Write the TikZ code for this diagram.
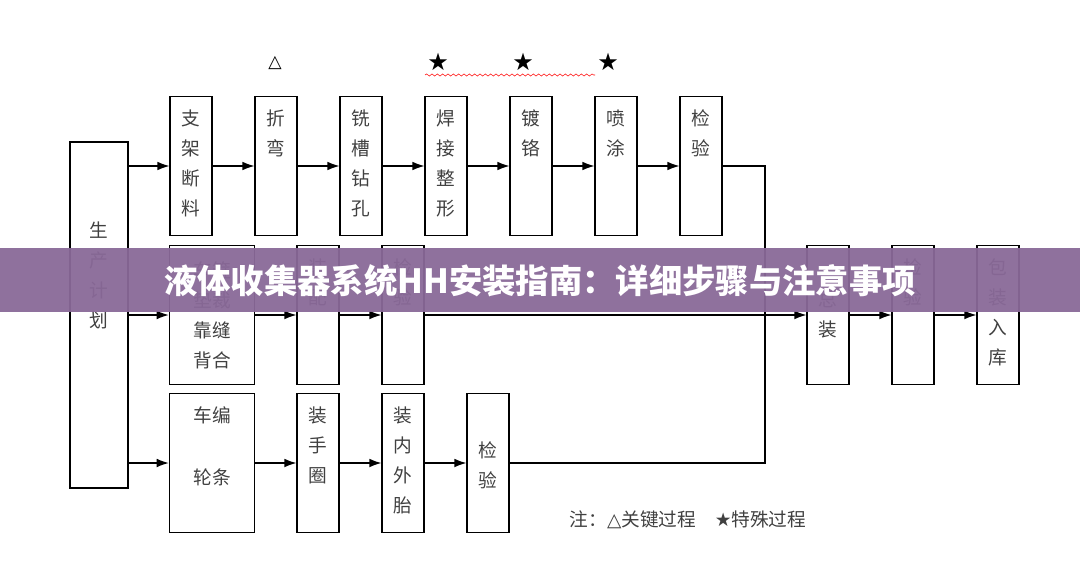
\documentclass[tikz,border=0pt]{standalone}
\usepackage{fontspec}
\setmainfont{Noto Sans CJK SC}
\newfontfamily\symfont{DejaVu Sans}
\usetikzlibrary{positioning,decorations.pathmorphing,arrows.meta}
\begin{document}
\begin{tikzpicture}
[x=0.75pt,y=-0.75pt,>={Latex[length=9pt,width=6.5pt]},
box/.style = {draw, line width=0.9pt, minimum width=31.5pt, minimum height=104pt, inner sep=0pt},
wbox/.style = {box, minimum width=64pt},
txt/.style = {anchor=north, yshift=-7pt, align=center, font=\fontsize{14}{22.5}\selectfont, text=black!75},
flow/.style = {->, line width=0.9pt},]
\useasboundingbox (0,0) rectangle (1080,560);
\node (P) at (99,315)[box, minimum width=43.5pt, minimum height=259.5pt, label={[txt, yshift=-50pt]north:生\\产\\计\\划}] {};
% first row
\node (a1) at (191,166)[box, label={[txt]north:支\\架\\断\\料}] {};
\node (a2) at (276,166)[box, label={[txt]north:折\\弯}] {};
\node (a3) at (361,166)[box, label={[txt]north:铣\\槽\\钻\\孔}] {};
\node (a4) at (446,166)[box, label={[txt]north:焊\\接\\整\\形}] {};
\node (a5) at (531,166)[box, label={[txt]north:镀\\铬}] {};
\node (a6) at (616,166)[box, label={[txt]north:喷\\涂}] {};
\node (a7) at (701,166)[box, label={[txt]north:检\\验}] {};
% second row
\node (b1) at (212,315)[wbox, label={[txt, yshift=-2pt]north:车箍\\垫裁\\靠缝\\背合}] {};
\node (b2) at (318,315)[box, label={[txt]north:装\\配}] {};
\node (b3) at (403,315)[box, label={[txt]north:检\\验}] {};
% third row
\node (c1) at (212,463)[wbox, label={[txt, font=\fontsize{14}{46}\selectfont]north:车编\\轮条}] {};
\node (c2) at (318,463)[box, label={[txt]north:装\\手\\圈}] {};
\node (c3) at (403,463)[box, label={[txt]north:装\\内\\外\\胎}] {};
\node (c4) at (488,463)[box, label={[txt, yshift=-26pt]north:检\\验}] {};
% final
\node (d1) at (828,315)[box, label={[txt, yshift=-24pt]north:总\\装}] {};
\node (d2) at (913,315)[box, label={[txt]north:检\\验}] {};
\node (d3) at (998,315)[box, label={[txt]north:包\\装\\入\\库}] {};
\coordinate (J1) at (765,166);
\coordinate (J3) at (765,463);
\draw [flow] (P.east |- a1) -- (a1);
\draw [flow] (P.east |- b1) -- (b1);
\draw [flow] (P.east |- c1) -- (c1);
\draw [flow] (a1) -- (a2);
\draw [flow] (a2) -- (a3);
\draw [flow] (a3) -- (a4);
\draw [flow] (a4) -- (a5);
\draw [flow] (a5) -- (a6);
\draw [flow] (a6) -- (a7);
\draw [flow] (b1) -- (b2);
\draw [flow] (b2) -- (b3);
\draw [flow] (c1) -- (c2);
\draw [flow] (c2) -- (c3);
\draw [flow] (c3) -- (c4);
\draw [line width=0.9pt] (a7) -- (J1) -- (J3) -- (c4);
\draw [flow] (b3) -- (d1);
\draw [flow] (d1) -- (d2);
\draw [flow] (d2) -- (d3);
% marks
\node (T) at (275,63) {\symfont\fontsize{13}{13}\selectfont △};
\node (S1) at (438,62) {\symfont\fontsize{18}{18}\selectfont ★};
\node (S2) at (523,62) {\symfont\fontsize{18}{18}\selectfont ★};
\node (S3) at (608,62) {\symfont\fontsize{18}{18}\selectfont ★};
\draw [red, decorate, decoration={snake, amplitude=0.8pt, segment length=4pt}] (425,75) -- (595,75);
\node (N) at (688,520)[font=\fontsize{14}{14}\selectfont, text=black!75] {注：{\symfont △}关键过程\quad{\symfont ★}特殊过程};
% banner
\fill [fill={rgb,255:red,137;green,105;blue,152}, opacity=0.95] (0,248) rectangle (1080,312);
\node (H) at (540,281)[text=white, font=\fontsize{25}{25}\selectfont\bfseries] {液体收集器系统HH安装指南：详细步骤与注意事项};
\end{tikzpicture}
\end{document}
